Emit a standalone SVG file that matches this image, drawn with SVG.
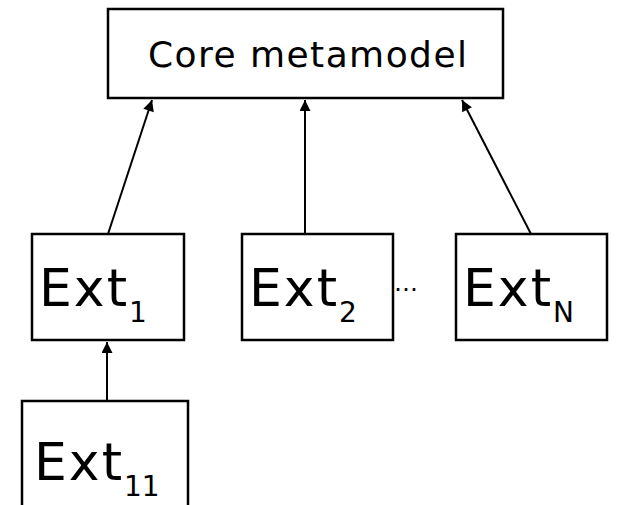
<svg xmlns="http://www.w3.org/2000/svg" width="624" height="505" viewBox="0 0 624 505">
  <style>
    .box { fill: #ffffff; stroke: #000000; stroke-width: 2.5; }
    .edge { stroke: #000000; stroke-width: 2; fill: none; marker-end: url(#tri); }
    .lbl { font-family: "DejaVu Sans", "Noto Sans", sans-serif; fill: #000000; }
    .big { font-size: 52px; letter-spacing: 2px; }
    .sub { font-size: 28px; letter-spacing: 0; }
    .core { font-size: 36px; }
  </style>
  <defs>
    <marker id="tri" viewBox="0 0 10 10" refX="10" refY="5" markerWidth="6" markerHeight="5.5" orient="auto" markerUnits="strokeWidth">
      <path d="M0,0 L10,5 L0,10 z" fill="#000000"/>
    </marker>
  </defs>
  <rect width="624" height="505" fill="#ffffff"/>

  <g id="connectors">
    <line class="edge" x1="108" y1="234" x2="152" y2="100"/>
    <line class="edge" x1="305" y1="234" x2="305" y2="100"/>
    <line class="edge" x1="531" y1="234" x2="462" y2="100"/>
    <line class="edge" x1="107" y1="401" x2="107" y2="342"/>
  </g>

  <g id="core">
    <rect class="box" x="108" y="9" width="395" height="89"/>
    <text class="lbl core" x="148" y="67" textLength="319" lengthAdjust="spacing">Core metamodel</text>
  </g>

  <g id="ext1">
    <rect class="box" x="32" y="234" width="152" height="106"/>
    <text class="lbl" x="39" y="306"><tspan class="big">Ext</tspan><tspan class="sub" dy="16">1</tspan></text>
  </g>

  <g id="ext2">
    <rect class="box" x="242" y="234" width="151" height="106"/>
    <text class="lbl" x="249" y="306"><tspan class="big">Ext</tspan><tspan class="sub" dy="16">2</tspan></text>
  </g>

  <text class="lbl" x="394" y="291" font-size="24">…</text>

  <g id="extN">
    <rect class="box" x="456" y="234" width="151" height="106"/>
    <text class="lbl" x="463" y="306"><tspan class="big">Ext</tspan><tspan class="sub" dy="16">N</tspan></text>
  </g>

  <g id="ext11">
    <rect class="box" x="22" y="401" width="166" height="120"/>
    <text class="lbl" x="34" y="480"><tspan class="big">Ext</tspan><tspan class="sub" dy="16">11</tspan></text>
  </g>
</svg>
